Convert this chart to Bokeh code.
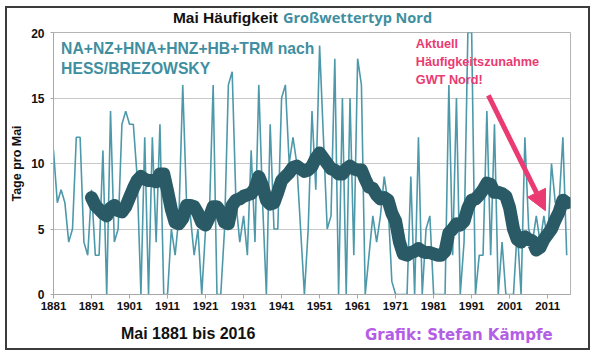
from bokeh.plotting import figure
from bokeh.models import Range1d, FixedTicker, Label, Arrow, NormalHead, Div
from bokeh.layouts import column
from bokeh.embed import file_html
from bokeh.resources import INLINE

# ---------------- data ----------------
first_year = 1881
annual_days = [
    11, 7, 8, 7, 4, 5, 12, 12, 4, 3,          # 1881-1890
    8, 3, 3, 11, 0, 14, 4, 5, 13, 14,         # 1891-1900
    13, 13, 9, 0, 12, 0, 12, 4, 13, 0,        # 1901-1910
    0, 5, 3, 6, 16, 7, 6, 3, 5, 0,            # 1911-1920
    5, 6, 16, 0, 0, 5, 16, 17, 7, 4,          # 1921-1930
    6, 3, 11, 4, 16, 7, 0, 13, 5, 5,          # 1931-1940
    15, 16, 10, 12, 10, 5, 0, 5, 14, 8,       # 1941-1950
    19, 12, 5, 6, 18, 0, 15, 0, 15, 3,        # 1951-1960
    18, 16, 0, 3, 6, 4, 6, 9, 7, 1,           # 1961-1970
    0, 0, 0, 0, 9, 0, 12, 0, 5, 6,            # 1971-1980
    0, 0, 0, 0, 16, 3, 15, 0, 4, 20,          # 1981-1990
    20, 0, 3, 3, 14, 3, 13, 0, 4, 0,          # 1991-2000
    0, 0, 5, 0, 12, 5, 4, 6, 4, 6,            # 2001-2010
    4, 10, 7, 7, 12, 3,                       # 2011-2016
]
years = list(range(first_year, first_year + len(annual_days)))

ma_first_year = 1891
moving_avg = [
    7.4, 6.8, 6.5, 6.2, 6.0, 6.6, 6.8, 6.4, 6.3, 6.7,  # 1891-1900
    7.4, 8.1, 8.7, 9.0, 8.8, 8.7, 8.7, 8.6, 9.2, 9.2,  # 1901-1910
    7.9, 6.5, 5.5, 5.4, 5.8, 6.8, 6.8, 6.7, 6.2, 5.5,  # 1911-1920
    5.3, 5.9, 6.7, 6.7, 6.3, 5.5, 5.4, 6.8, 7.2, 7.3,  # 1921-1930
    7.5, 7.6, 7.7, 8.1, 9.0, 8.3, 7.2, 6.9, 7.0, 7.8,  # 1931-1940
    8.7, 9.0, 9.3, 9.7, 9.8, 9.6, 9.4, 9.5, 9.8, 10.4, # 1941-1950
    10.8, 10.4, 10.0, 9.6, 9.5, 9.2, 9.2, 9.6, 9.8, 9.6,  # 1951-1960
    9.5, 9.5, 8.8, 8.2, 8.1, 7.6, 7.3, 7.4, 7.2, 6.2,  # 1961-1970
    5.6, 4.0, 3.1, 3.0, 3.2, 3.3, 3.5, 3.3, 3.2, 3.2,  # 1971-1980
    3.1, 3.0, 3.0, 3.3, 4.7, 5.0, 5.4, 5.3, 5.6, 6.6,  # 1981-1990
    7.2, 7.3, 7.6, 8.0, 8.5, 8.4, 7.8, 7.8, 7.7, 7.5,  # 1991-2000
    6.6, 5.0, 4.2, 4.0, 4.4, 4.2, 4.1, 3.4, 3.6, 4.2,  # 2001-2010
    4.6, 5.0, 5.7, 6.3, 7.2, 7.0,                     # 2011-2016
]
ma_years = list(range(ma_first_year, ma_first_year + len(moving_avg)))

x_tick_years = list(range(1881, 2012, 10))
y_tick_values = [0, 5, 10, 15, 20]

title_black = "Mai Häufigkeit"
title_teal = "Großwettertyp Nord"
source_lines = ["NA+NZ+HNA+HNZ+HB+TRM nach", "HESS/BREZOWSKY"]
note_lines = ["Aktuell", "Häufigkeitszunahme", "GWT Nord!"]
y_label = "Tage pro Mai"
period_text = "Mai 1881 bis 2016"
credit_text = "Grafik: Stefan Kämpfe"

# ---------------- styles ----------------
FONT = "Liberation Sans"
THIN = "#4d99aa"
THICK = "#2a5a66"
TEAL_TXT = "#3f8fa0"
PINK = "#ea3a72"
PURPLE = "#b45ee6"
W = 581

title_div = Div(
    text=(f'<div style="position:relative;width:{W}px;height:20px;">'
          f'<span style="position:absolute;right:310px;top:0;line-height:20px;'
          f'font-family:\'{FONT}\';font-weight:bold;font-size:15.5px;color:#111;white-space:nowrap;">{title_black}</span>'
          f'<span style="position:absolute;left:276px;top:0;line-height:20px;'
          f'font-family:\'Open Sans\';font-weight:bold;font-size:14.5px;color:{TEAL_TXT};white-space:nowrap;">{title_teal}</span>'
          f'</div>'),
    width=W, height=20, margin=(0, 0, 0, 0))

p = figure(width=W, height=290, output_backend="svg", toolbar_location=None,
           x_range=Range1d(1881, 2017), y_range=Range1d(0, 20),
           min_border_left=45, min_border_right=18, min_border_top=4,
           min_border_bottom=24, margin=(0, 0, 0, 0))
p.background_fill_color = "white"
p.border_fill_color = "white"
p.outline_line_color = "#b5b5b5"
p.outline_line_width = 1

p.xgrid.visible = False
p.ygrid.ticker = FixedTicker(ticks=y_tick_values)
p.ygrid.grid_line_color = "#c8c8c8"
p.ygrid.grid_line_width = 1

p.xaxis.ticker = FixedTicker(ticks=x_tick_years)
p.yaxis.ticker = FixedTicker(ticks=y_tick_values)
for ax in (p.xaxis[0], p.yaxis[0]):
    ax.axis_line_color = "#a8a8a8"
    ax.major_tick_line_color = "#a8a8a8"
    ax.minor_tick_line_color = None
    ax.major_tick_in = 0
    ax.major_label_text_font = FONT
    ax.major_label_text_font_style = "bold"
    ax.major_label_text_color = "#111111"
p.xaxis.major_tick_out = 4
p.xaxis.major_label_standoff = 3
p.xaxis.major_label_text_font_size = "11.5px"
p.yaxis.major_tick_out = 3
p.yaxis.major_label_standoff = 6
p.yaxis.major_label_text_font_size = "12px"
p.yaxis.axis_label = y_label
p.yaxis.axis_label_text_font = FONT
p.yaxis.axis_label_text_font_style = "bold"
p.yaxis.axis_label_text_font_size = "12.5px"
p.yaxis.axis_label_text_color = "#111111"
p.yaxis.axis_label_standoff = 4

p.line(years, annual_days, line_color=THIN, line_width=1.6)
p.line(ma_years, moving_avg, line_color=THICK, line_width=13,
       line_join="round", line_cap="round")

def lab(x, y, text, color, size):
    p.add_layout(Label(x=x, y=y, text=text, text_color=color, text_font=FONT,
                       text_font_size=size, text_font_style="bold",
                       text_align="left", text_baseline="middle"))

lab(1883.0, 18.78, source_lines[0], TEAL_TXT, "15.7px")
lab(1883.0, 17.29, source_lines[1], TEAL_TXT, "15.7px")
lab(1976.3, 19.16, note_lines[0], PINK, "12.7px")
lab(1976.3, 17.71, note_lines[1], PINK, "12.7px")
lab(1976.3, 16.34, note_lines[2], PINK, "12.7px")

p.add_layout(Arrow(end=NormalHead(size=20, fill_color=PINK, line_color=PINK),
                   x_start=1995.4, y_start=15.2, x_end=2010.4, y_end=6.4,
                   line_color=PINK, line_width=5))

bottom_div = Div(
    text=(f'<div style="position:relative;width:{W}px;height:30px;">'
          f'<span style="position:absolute;left:114px;top:2px;line-height:28px;'
          f'font-family:\'{FONT}\';font-weight:bold;font-size:16px;color:#111;white-space:nowrap;">{period_text}</span>'
          f'<span style="position:absolute;left:358px;top:3px;line-height:28px;'
          f'font-family:\'DejaVu Sans\';font-weight:bold;font-size:15px;color:{PURPLE};white-space:nowrap;">{credit_text}</span>'
          f'</div>'),
    width=W, height=30, margin=(0, 0, 0, 0))

layout = column(title_div, p, bottom_div, spacing=0,
                margin=(6, 0, 0, 5),
                styles={"border": "2px solid #3c3c3c", "background": "white"})

open("out.html", "w").write(file_html(layout, INLINE))
